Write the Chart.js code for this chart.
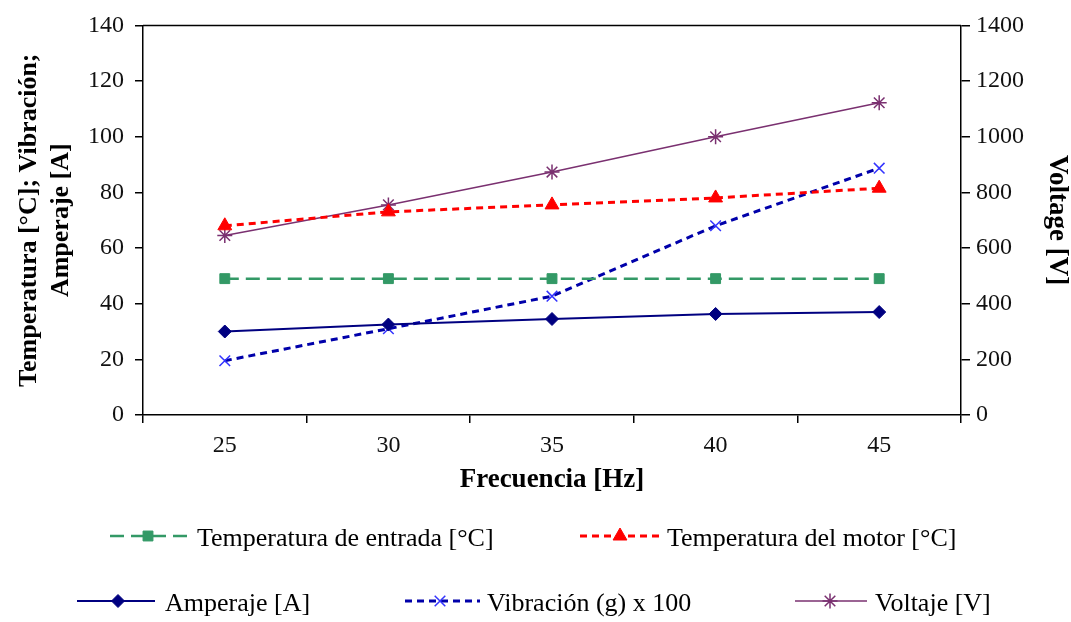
<!DOCTYPE html>
<html>
<head>
<meta charset="utf-8">
<script src="https://cdn.jsdelivr.net/npm/chart.js@4/dist/chart.umd.min.js"></script>
<style>
  html, body { margin: 0; padding: 0; background: #fff; }
  #wrap { width: 1071px; height: 622px; }
</style>
</head>
<body>
<div id="wrap"><canvas id="myChart" width="1071" height="622"></canvas></div>
<script>
// Frecuencia [Hz]
const frecuencias = ['25', '30', '35', '40', '45'];

// series values
const tempEntrada = [49, 49, 49, 49, 49];
const tempMotor = [68, 73, 75.5, 78, 81.5];
const amperaje = [30, 32.5, 34.5, 36.3, 37];
const vibracion = [19.5, 31, 42.7, 68, 88.7];
const voltaje = [645, 755, 873, 1000, 1122];

// ticks
const yTicks = [0, 20, 40, 60, 80, 100, 120, 140];
const y1Ticks = [0, 200, 400, 600, 800, 1000, 1200, 1400];

const serif = "'Liberation Serif', 'Times New Roman', serif";

// legend drawn on the canvas, two rows like the original
const legendPlugin = {
    id: 'rowLegend',
    afterDraw(chart, args, opts) {
        const ctx = chart.ctx;
        opts.items.forEach(item => {
            const ds = chart.data.datasets[item.index];
            ctx.save();
            ctx.strokeStyle = ds.borderColor;
            ctx.lineWidth = ds.borderWidth;
            ctx.setLineDash(ds.borderDash || []);
            ctx.beginPath();
            ctx.moveTo(item.x0, item.y);
            ctx.lineTo(item.x1, item.y);
            ctx.stroke();
            ctx.setLineDash([]);
            ctx.fillStyle = ds.pointBackgroundColor;
            ctx.strokeStyle = ds.pointBorderColor;
            ctx.lineWidth = ds.pointBorderWidth;
            Chart.helpers.drawPoint(ctx, {
                pointStyle: ds.pointStyle,
                radius: ds.pointRadius,
                borderWidth: ds.pointBorderWidth,
                rotation: 0
            }, item.xm, item.y);
            ctx.fillStyle = '#000';
            ctx.font = '26px ' + serif;
            ctx.textAlign = 'left';
            ctx.textBaseline = 'alphabetic';
            ctx.fillText(ds.label, item.tx, item.y + 10);
            ctx.restore();
        });
    }
};

// top border of the plot frame
const framePlugin = {
    id: 'frame',
    afterDatasetsDraw(chart) {
        const {ctx, chartArea} = chart;
        ctx.save();
        ctx.strokeStyle = '#000';
        ctx.lineWidth = 1.5;
        ctx.beginPath();
        ctx.moveTo(chartArea.left, chartArea.top);
        ctx.lineTo(chartArea.right, chartArea.top);
        ctx.stroke();
        ctx.restore();
    }
};

const ctx = document.getElementById('myChart').getContext('2d');
new Chart(ctx, {
    type: 'line',
    data: {
        labels: frecuencias,
        datasets: [
            {
                label: 'Temperatura de entrada [°C]',
                data: tempEntrada,
                yAxisID: 'y',
                borderColor: '#339966',
                borderWidth: 2.5,
                borderDash: [14, 7],
                pointStyle: 'rect',
                pointRadius: 7,
                pointBackgroundColor: '#339966',
                pointBorderColor: '#339966',
                pointBorderWidth: 1
            },
            {
                label: 'Temperatura del motor [°C]',
                data: tempMotor,
                yAxisID: 'y',
                borderColor: '#ff0000',
                borderWidth: 3,
                borderDash: [7, 5],
                pointStyle: 'triangle',
                pointRadius: 8,
                pointBackgroundColor: '#ff0000',
                pointBorderColor: '#ff0000',
                pointBorderWidth: 1
            },
            {
                label: 'Amperaje [A]',
                data: amperaje,
                yAxisID: 'y',
                borderColor: '#000080',
                borderWidth: 2,
                pointStyle: 'rectRot',
                pointRadius: 6.5,
                pointBackgroundColor: '#000080',
                pointBorderColor: '#000080',
                pointBorderWidth: 1
            },
            {
                label: 'Vibración (g) x 100',
                data: vibracion,
                yAxisID: 'y',
                borderColor: '#0000aa',
                borderWidth: 3,
                borderDash: [7, 5],
                pointStyle: 'crossRot',
                pointRadius: 7.5,
                pointBackgroundColor: '#3333ff',
                pointBorderColor: '#3333ff',
                pointBorderWidth: 1.5
            },
            {
                label: 'Voltaje [V]',
                data: voltaje,
                yAxisID: 'y1',
                borderColor: '#7a3070',
                borderWidth: 1.5,
                pointStyle: 'star',
                pointRadius: 7.5,
                pointBackgroundColor: '#7a3070',
                pointBorderColor: '#7a3070',
                pointBorderWidth: 1.5
            }
        ]
    },
    options: {
        responsive: false,
        animation: false,
        clip: false,
        layout: { padding: { top: 23, bottom: 122, left: 0, right: 0 } },
        plugins: {
            legend: { display: false },
            tooltip: { enabled: false },
            rowLegend: {
                items: [
                    { index: 0, x0: 110, x1: 190, xm: 148, y: 536, tx: 197 },
                    { index: 1, x0: 580, x1: 660, xm: 620, y: 536, tx: 667 },
                    { index: 2, x0: 77, x1: 155, xm: 118, y: 601, tx: 165 },
                    { index: 3, x0: 405, x1: 480, xm: 440, y: 601, tx: 487 },
                    { index: 4, x0: 795, x1: 867, xm: 830, y: 601, tx: 875 }
                ]
            }
        },
        scales: {
            x: {
                type: 'category',
                offset: true,
                afterFit: s => { s.height = 85; },
                grid: { offset: true, drawOnChartArea: false, drawTicks: true, tickLength: 8, color: '#000', lineWidth: 1.5 },
                border: { display: true, color: '#000', width: 1.5 },
                ticks: { color: '#111', font: { family: serif, size: 24 }, padding: 8 },
                title: {
                    display: true,
                    text: 'Frecuencia [Hz]',
                    color: '#000',
                    font: { family: serif, size: 27, weight: 'bold', lineHeight: 1.2 },
                    padding: { top: 0, bottom: 4 }
                }
            },
            y: {
                position: 'left',
                min: 0,
                max: 140,
                afterFit: s => { s.width = 143; },
                afterBuildTicks: s => { s.ticks = yTicks.map(v => ({ value: v })); },
                grid: { drawOnChartArea: false, drawTicks: true, tickLength: 8, color: '#000', lineWidth: 1.5 },
                border: { display: true, color: '#000', width: 1.5 },
                ticks: { color: '#111', font: { family: serif, size: 24 }, padding: 11 },
                title: {
                    display: true,
                    text: ['Temperatura [°C]; Vibración;', 'Amperaje [A]'],
                    color: '#000',
                    font: { family: serif, size: 26, weight: 'bold', lineHeight: 1.2 },
                    padding: { top: 14, bottom: 0 }
                }
            },
            y1: {
                position: 'right',
                min: 0,
                max: 1400,
                afterFit: s => { s.width = 110; },
                afterBuildTicks: s => { s.ticks = y1Ticks.map(v => ({ value: v })); },
                grid: { drawOnChartArea: false, drawTicks: true, tickLength: 9, color: '#000', lineWidth: 1.5 },
                border: { display: true, color: '#000', width: 1.5 },
                ticks: {
                    color: '#111',
                    font: { family: serif, size: 24 },
                    padding: 6,
                    callback: value => String(value)
                },
                title: {
                    display: true,
                    text: 'Voltage [V]',
                    color: '#000',
                    font: { family: serif, size: 27, weight: 'bold', lineHeight: 1.0 },
                    padding: { top: 1, bottom: 0 }
                }
            }
        }
    },
    plugins: [legendPlugin, framePlugin]
});
</script>
</body>
</html>
